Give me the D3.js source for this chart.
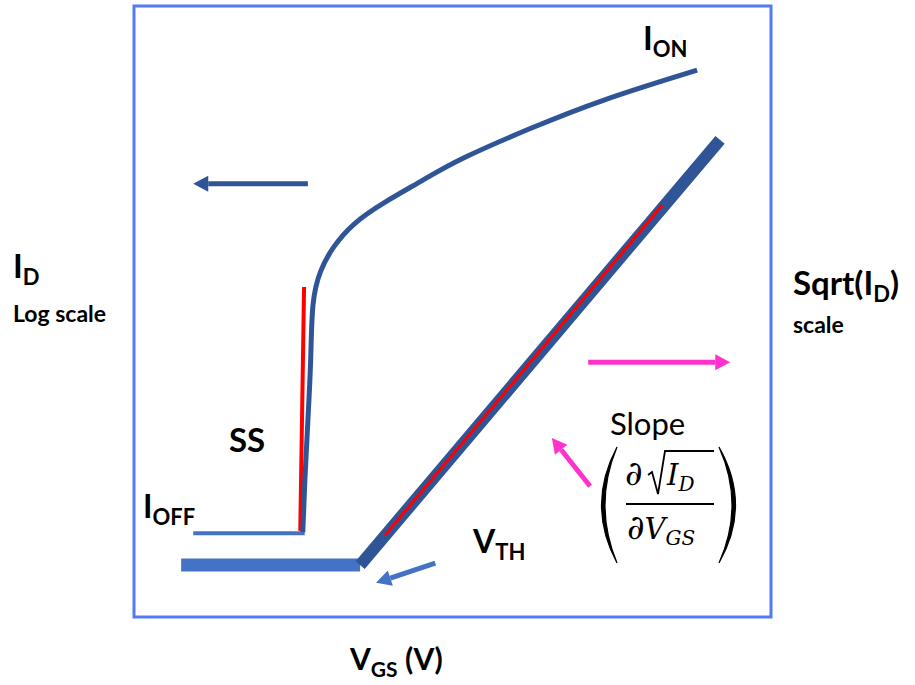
<!DOCTYPE html>
<html>
<head>
<meta charset="utf-8">
<script src="https://cdn.jsdelivr.net/npm/d3@7"></script>
<style>
  body { margin: 0; background: #fff; }
  text { font-family: Lato, "Open Sans", sans-serif; fill: #000; }
</style>
</head>
<body>
<script>
// schematic transfer curve, axes 0..10 on both sides (arbitrary units)
var logCurveV = [2.65, 2.68, 2.73, 2.78, 2.79, 2.92, 3.12, 3.44, 3.91, 4.54, 5.07, 6.22, 7.32, 8.84]
var logCurveI = [1.39, 2.24, 3.22, 4.21, 5.19, 5.68, 6.06, 6.45, 6.78, 7.15, 7.48, 8.00, 8.46, 8.95]

var sqrtCurveV = [0.74, 3.55, 9.20]
var sqrtCurveI = [0.85, 0.85, 7.81]

var ioffV = [0.93, 2.68], ioffI = [1.37, 1.37]
var ssFitV = [2.61, 2.67], ssFitI = [1.41, 5.40]
var slopeFitV = [3.94, 8.29], slopeFitI = [1.34, 6.74]

// arrows: [fromV, fromI, toV, toI]
var arrowLog = [2.73, 7.09, 0.93, 7.09]
var arrowSqrt = [7.13, 4.17, 9.36, 4.17]
var arrowSlope = [7.16, 2.14, 6.56, 2.93]
var arrowVth = [4.73, 0.88, 3.80, 0.56]

var width = 915, height = 685
var frame = {left: 134, right: 771, top: 6, bottom: 617}

var svg = d3.select("body").append("svg")
    .attr("width", width)
    .attr("height", height)

var x = d3.scaleLinear().domain([0, 10]).range([frame.left, frame.right])
var y = d3.scaleLinear().domain([0, 10]).range([frame.bottom, frame.top])

var dark = "#2F5597", mid = "#4472C4", pink = "#FF33CC"

svg.append("rect")
    .attr("x", frame.left).attr("y", frame.top)
    .attr("width", frame.right - frame.left)
    .attr("height", frame.bottom - frame.top)
    .attr("fill", "none")
    .attr("stroke", "#4F7BF7")
    .attr("stroke-width", 3)

var line = d3.line().x(function(d){ return x(d[0]) }).y(function(d){ return y(d[1]) })

function pts(vs, is){
    return vs.map(function(v, i){ return [v, is[i]] })
}

// sqrt(Id) curve: flat part then straight rise
var sq = pts(sqrtCurveV, sqrtCurveI)
svg.append("path").attr("d", line(sq.slice(0, 2)))
    .attr("stroke", mid).attr("stroke-width", 13).attr("fill", "none")
svg.append("path").attr("d", line(sq.slice(1, 3)))
    .attr("stroke", dark).attr("stroke-width", 12).attr("fill", "none")

svg.append("path").attr("d", line(pts(slopeFitV, slopeFitI)))
    .attr("stroke", "#FF0000").attr("stroke-width", 3).attr("fill", "none")

// log(Id) curve
svg.append("path").attr("d", line(pts(ioffV, ioffI)))
    .attr("stroke", mid).attr("stroke-width", 4).attr("fill", "none")

svg.append("path").attr("d", line(pts(ssFitV, ssFitI)))
    .attr("stroke", "#FF0000").attr("stroke-width", 4).attr("fill", "none")

svg.append("path")
    .attr("d", line.curve(d3.curveBasis)(pts(logCurveV, logCurveI)))
    .attr("stroke", dark).attr("stroke-width", 5).attr("fill", "none")
line.curve(d3.curveLinear)

function arrow(a, color, w){
    var x1 = x(a[0]), y1 = y(a[1]), x2 = x(a[2]), y2 = y(a[3])
    var ang = Math.atan2(y2 - y1, x2 - x1)
    var hl = 15, hw = 8
    var bx = x2 - hl * Math.cos(ang), by = y2 - hl * Math.sin(ang)
    svg.append("line")
        .attr("x1", x1).attr("y1", y1).attr("x2", bx).attr("y2", by)
        .attr("stroke", color).attr("stroke-width", w)
    var nx = -Math.sin(ang) * hw, ny = Math.cos(ang) * hw
    svg.append("path")
        .attr("d", "M" + x2 + "," + y2 + "L" + (bx + nx) + "," + (by + ny) + "L" + (bx - nx) + "," + (by - ny) + "Z")
        .attr("fill", color)
}
arrow(arrowLog, dark, 5)
arrow(arrowSqrt, pink, 5)
arrow(arrowSlope, pink, 5)
arrow(arrowVth, mid, 5)

// labels
function label(tx, ty, main, sub, size, subSize, weight, rest){
    var t = svg.append("text").attr("x", tx).attr("y", ty)
        .style("font-size", size + "px").style("font-weight", weight)
    t.append("tspan").text(main)
    if (sub) t.append("tspan").attr("dy", size * 0.22).style("font-size", subSize + "px").text(sub)
    if (rest) t.append("tspan").attr("dy", -size * 0.22).text(rest)
    return t
}
label(643, 50, "I", "ON", 33, 22, 700)
label(13, 278, "I", "D", 33, 22, 700)
label(13, 322, "Log scale", null, 23, 0, 700)
label(793, 295, "Sqrt(I", "D", 33, 22, 700, ")")
label(793, 333, "scale", null, 23, 0, 700)
label(229, 452, "SS", null, 33, 0, 700)
label(143, 518, "I", "OFF", 32, 22, 700)
label(473, 553, "V", "TH", 32, 22, 700)
label(350, 670, "V", "GS", 30, 21, 700, " (V)")
label(610, 435, "Slope", null, 31, 0, 400)

// slope expression
var mf = "'DejaVu Serif', serif"
svg.append("path")
    .attr("d", "M617,447 Q586,505 617,563 Q593,505 617,447 Z")
    .attr("fill", "#000").attr("stroke", "#000").attr("stroke-width", 1.2)
svg.append("path")
    .attr("d", "M719,447 Q752,505 719,563 Q745,505 719,447 Z")
    .attr("fill", "#000").attr("stroke", "#000").attr("stroke-width", 1.2)
svg.append("line").attr("x1", 626).attr("x2", 714).attr("y1", 504).attr("y2", 504)
    .attr("stroke", "#000").attr("stroke-width", 1.8)
svg.append("text").attr("x", 625).attr("y", 485)
    .style("font-family", mf).style("font-size", "34px").text("\u2202")
svg.append("path").attr("d", "M648,475 L652,472 L658,494 L665,451 L714,451")
    .attr("fill", "none").attr("stroke", "#000").attr("stroke-width", 1.8)
var num = svg.append("text").attr("x", 667).attr("y", 485)
    .style("font-family", mf).style("font-size", "29px").style("font-style", "italic")
num.append("tspan").text("I")
num.append("tspan").attr("dy", 6).style("font-size", "20px").text("D")
var den = svg.append("text").attr("x", 627).attr("y", 539)
    .style("font-family", mf).style("font-size", "29px")
den.append("tspan").style("font-size", "34px").text("\u2202")
den.append("tspan").style("font-style", "italic").text("V")
den.append("tspan").attr("dy", 6).style("font-style", "italic").style("font-size", "20px").text("GS")
</script>
</body>
</html>
